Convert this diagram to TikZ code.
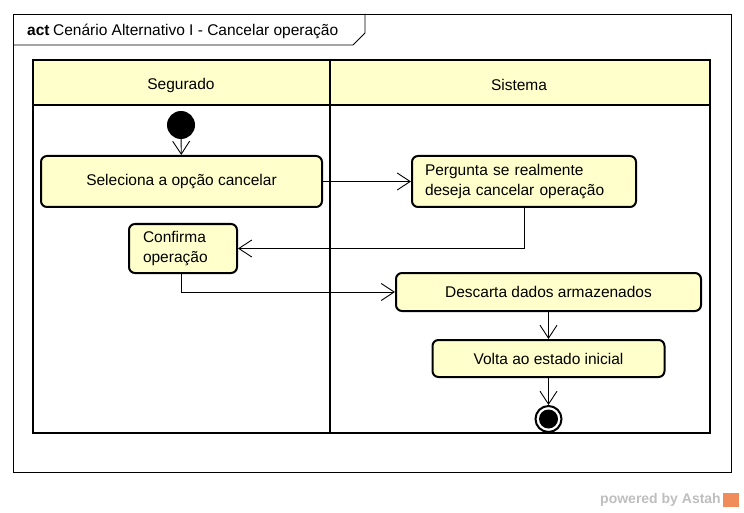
\documentclass[tikz,border=0pt]{standalone}
\usepackage{fontspec}
\setmainfont{Liberation Sans}
\usetikzlibrary{arrows.meta}
\definecolor{boxyellow}{RGB}{255,255,204}
\definecolor{hdryellow}{RGB}{255,255,204}
\definecolor{astahgray}{RGB}{190,190,190}
\definecolor{astahorange}{RGB}{240,140,90}
\begin{document}
\begin{tikzpicture}[x=1pt,y=-1pt,
  actbox/.style={draw, line width=2pt, rounded corners=6pt, fill=boxyellow,
    font=\fontsize{15.5}{20}\selectfont, inner sep=0pt, align=center},
  actleft/.style={actbox, align=left, inner xsep=13pt},
  flow/.style={line width=0.9pt, -{Straight Barb[length=13pt,width=17pt,line width=0.9pt]}},
  lane/.style={line width=2.4pt},
  lanelabel/.style={font=\fontsize{15.5}{18}\selectfont}
]
\useasboundingbox (0,0) rectangle (744,513);
% frame
\draw[line width=0.8pt] (13,14) rectangle (731,472);
\draw[line width=0.8pt] (13,45) -- (353,45) -- (365,33) -- (365,14);
\node[anchor=west, inner sep=0pt, font=\fontsize{15.5}{18}\selectfont] (title) at (27,31)
  {\textbf{act}\hspace{3.5pt}Cenário Alternativo I - Cancelar operação};
% swimlanes
\fill[hdryellow] (33,60) rectangle (710,105);
\draw[lane] (33,60) rectangle (710,433);
\draw[lane] (33,105) -- (710,105);
\draw[lane] (330,60) -- (330,433);
\node[lanelabel] (lseg) at (181,85) {Segurado};
\node[lanelabel] (lsis) at (519,85) {Sistema};
% nodes
\node[circle, fill=black, minimum size=28pt, inner sep=0pt] (init) at (181,125) {};
\node[actbox, minimum width=281pt, minimum height=51pt] (sel) at (181.5,181.5) {Seleciona a opção cancelar};
\node[actleft, text width=198pt, minimum height=51pt] (perg) at (524,181.5) {Pergunta se realmente\\deseja cancelar operação};
\node[actleft, inner xsep=14pt, text width=80pt, minimum height=49pt] (conf) at (183,248.5) {Confirma\\operação};
\node[actbox, minimum width=305pt, minimum height=38pt] (desc) at (548.5,292) {Descarta dados armazenados};
\node[actbox, minimum width=232pt, minimum height=37pt] (volta) at (548.5,358.5) {Volta ao estado inicial};
\node[circle, draw, line width=2pt, fill=white, minimum size=26pt, inner sep=0pt] (fin) at (548.5,419) {};
\fill[black] (fin.center) circle (9.5pt);
% flows
\draw[flow] (init) -- (sel);
\draw[flow] (sel.east) -- (perg.west);
\draw[flow] (perg.south) |- (conf.east);
\draw[flow] ([xshift=-2pt]conf.south) |- (desc.west);
\draw[flow] (desc) -- (volta);
\draw[flow] (volta) -- (fin);
% watermark
\node[anchor=east, inner sep=0pt, text=astahgray, font=\fontsize{14}{16}\selectfont\bfseries] (pw) at (721,500) {powered by Astah};
\fill[astahorange] (723,493) rectangle (739,507);
\end{tikzpicture}
\end{document}
